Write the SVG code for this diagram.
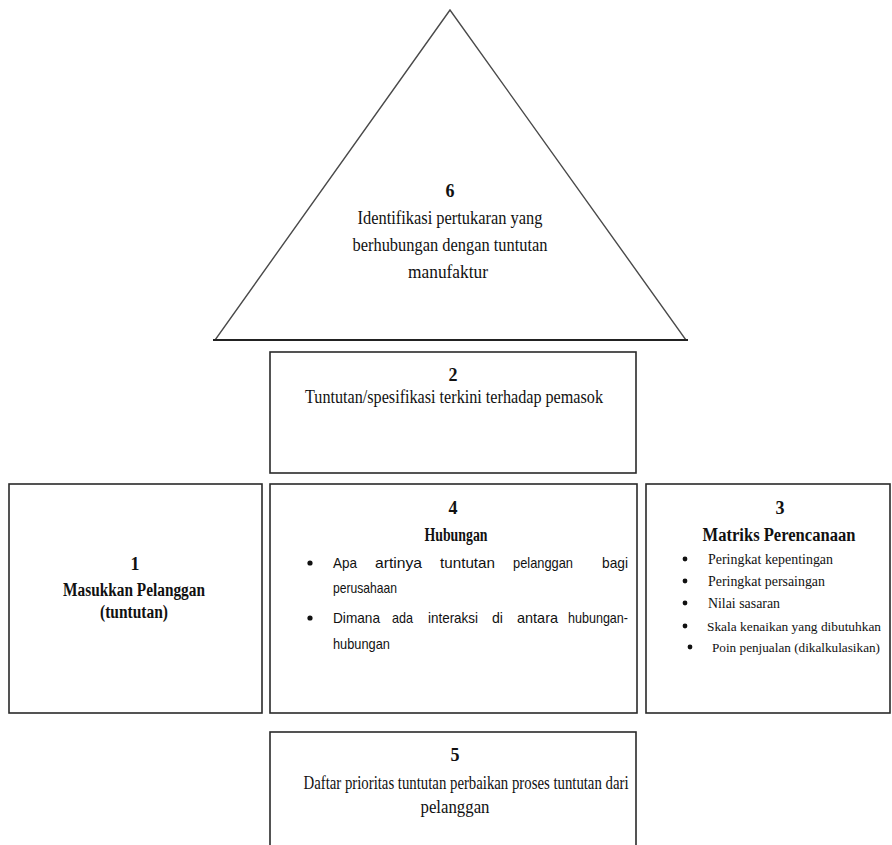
<svg xmlns="http://www.w3.org/2000/svg" width="892" height="845" viewBox="0 0 892 845">
<style>
.box{fill:#fff;stroke:#2a2a2a;stroke-width:1.6}
.tri{fill:#fff;stroke:#4a4a4a;stroke-width:1.4}
.s{font-family:"Liberation Serif","Times New Roman",serif;font-size:18px;fill:#111;text-anchor:middle}
.m{font-size:14.5px}
.n{font-size:13.4px}
.b{font-weight:bold}
.l{text-anchor:start}
.sans{font-family:"Liberation Sans",Arial,sans-serif;font-size:15px;fill:#111}
.dot{fill:#111}
</style>
<rect width="892" height="845" fill="#fff"/>
<g id="node6">
<polygon class="tri" points="450,10 215,340 686,340"/>
<line x1="213" y1="340" x2="688" y2="340" stroke="#222" stroke-width="1.8"/>
<text class="s b" x="450" y="197">6</text>
<text class="s" x="450" y="224" textLength="185" lengthAdjust="spacingAndGlyphs">Identifikasi pertukaran yang</text>
<text class="s" x="450" y="251" textLength="195" lengthAdjust="spacingAndGlyphs">berhubungan dengan tuntutan</text>
<text class="s" x="448" y="278" textLength="80" lengthAdjust="spacingAndGlyphs">manufaktur</text>
</g>
<g id="node2">
<rect class="box" x="270" y="352" width="366" height="121"/>
<text class="s b" x="453" y="381">2</text>
<text class="s" x="454" y="403" textLength="298" lengthAdjust="spacingAndGlyphs">Tuntutan/spesifikasi terkini terhadap pemasok</text>
</g>
<g id="node1">
<rect class="box" x="9" y="484" width="253" height="229"/>
<text class="s b" x="135" y="570">1</text>
<text class="s b" x="134" y="596" textLength="142" lengthAdjust="spacingAndGlyphs">Masukkan Pelanggan</text>
<text class="s b" x="134" y="618" textLength="68" lengthAdjust="spacingAndGlyphs">(tuntutan)</text>
</g>
<g id="node4">
<rect class="box" x="270" y="484" width="367" height="229"/>
<text class="s b" x="453" y="514">4</text>
<text class="s b" x="456" y="541" textLength="63" lengthAdjust="spacingAndGlyphs">Hubungan</text>
<circle class="dot" cx="310" cy="563" r="2.6"/>
<circle class="dot" cx="310" cy="618" r="2.6"/>
<g class="sans">
<text x="333" y="568" textLength="24" lengthAdjust="spacingAndGlyphs">Apa</text>
<text x="375" y="568" textLength="47" lengthAdjust="spacingAndGlyphs">artinya</text>
<text x="440" y="568" textLength="55" lengthAdjust="spacingAndGlyphs">tuntutan</text>
<text x="513" y="568" textLength="60" lengthAdjust="spacingAndGlyphs">pelanggan</text>
<text x="602" y="568" textLength="26" lengthAdjust="spacingAndGlyphs">bagi</text>
<text x="333" y="593" textLength="64" lengthAdjust="spacingAndGlyphs">perusahaan</text>
<text x="333" y="623" textLength="47" lengthAdjust="spacingAndGlyphs">Dimana</text>
<text x="392" y="623" textLength="21" lengthAdjust="spacingAndGlyphs">ada</text>
<text x="428" y="623" textLength="50" lengthAdjust="spacingAndGlyphs">interaksi</text>
<text x="492" y="623" textLength="11" lengthAdjust="spacingAndGlyphs">di</text>
<text x="517" y="623" textLength="41" lengthAdjust="spacingAndGlyphs">antara</text>
<text x="568" y="623" textLength="60" lengthAdjust="spacingAndGlyphs">hubungan-</text>
<text x="333" y="649" textLength="57" lengthAdjust="spacingAndGlyphs">hubungan</text>
</g>
</g>
<g id="node3">
<rect class="box" x="646" y="484" width="244" height="229"/>
<text class="s b" x="780" y="514">3</text>
<text class="s b" x="779" y="541" textLength="153" lengthAdjust="spacingAndGlyphs">Matriks Perencanaan</text>
<circle class="dot" cx="685" cy="559" r="2.4"/>
<circle class="dot" cx="685" cy="581" r="2.4"/>
<circle class="dot" cx="685" cy="603" r="2.4"/>
<circle class="dot" cx="685" cy="626" r="2.4"/>
<circle class="dot" cx="690" cy="647" r="2.4"/>
<text class="s m l" x="708" y="564" textLength="125" lengthAdjust="spacingAndGlyphs">Peringkat kepentingan</text>
<text class="s m l" x="708" y="586" textLength="117" lengthAdjust="spacingAndGlyphs">Peringkat persaingan</text>
<text class="s m l" x="708" y="608" textLength="72" lengthAdjust="spacingAndGlyphs">Nilai sasaran</text>
<text class="s n l" x="707" y="631" textLength="174" lengthAdjust="spacingAndGlyphs">Skala kenaikan yang dibutuhkan</text>
<text class="s n l" x="712" y="652" textLength="168" lengthAdjust="spacingAndGlyphs">Poin penjualan (dikalkulasikan)</text>
</g>
<g id="node5">
<rect class="box" x="270" y="732" width="366" height="130"/>
<text class="s b" x="455" y="761">5</text>
<text class="s" x="466" y="789" textLength="325" lengthAdjust="spacingAndGlyphs">Daftar prioritas tuntutan perbaikan proses tuntutan dari</text>
<text class="s" x="455" y="813" textLength="69" lengthAdjust="spacingAndGlyphs">pelanggan</text>
</g>
<g id="connectors"></g>
</svg>
